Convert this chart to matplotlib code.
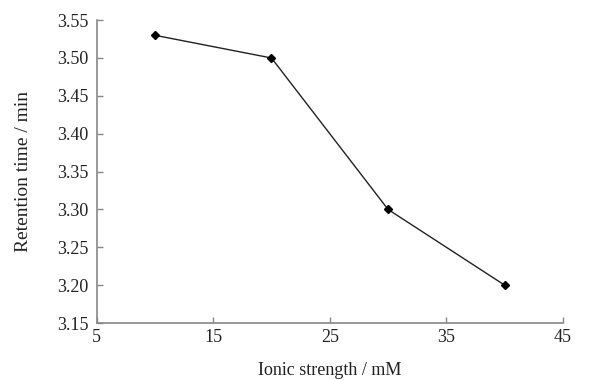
import matplotlib.pyplot as plt

plt.rcParams['font.family'] = ['Liberation Serif', 'DejaVu Serif']

ionic_strength = [10, 20, 30, 40]
retention_time = [3.53, 3.50, 3.30, 3.20]
x_ticks = [5, 15, 25, 35, 45]
y_ticks = [3.15, 3.20, 3.25, 3.30, 3.35, 3.40, 3.45, 3.50, 3.55]

fig = plt.figure(figsize=(6.04, 3.80), dpi=100)
ax = fig.add_axes([0.160, 0.150, 0.772, 0.797])

ax.plot(ionic_strength, retention_time, color='#222222', lw=1.0,
        marker='D', ms=4, mfc='black', mec='black')

ax.set_xlim(5, 45)
ax.set_ylim(3.15, 3.55)
ax.set_xticks(x_ticks)
ax.set_yticks(y_ticks)
ax.set_yticklabels(['%.2f' % v for v in y_ticks])

for s in ['top', 'right']:
    ax.spines[s].set_visible(False)
for s in ['left', 'bottom']:
    ax.spines[s].set_color('#888888')
    ax.spines[s].set_linewidth(1.2)

ax.tick_params(direction='in', length=4, width=1, color='#888888',
               labelsize=13, labelcolor='#222222')
ax.tick_params(axis='x', pad=4)
ax.tick_params(axis='y', pad=6)

ax.set_xlabel('Ionic strength / mM', fontsize=13, color='#222222', labelpad=12)
ax.set_ylabel('Retention time / min', fontsize=14, color='#222222', labelpad=18)

fig.savefig('out.png', dpi=100)
